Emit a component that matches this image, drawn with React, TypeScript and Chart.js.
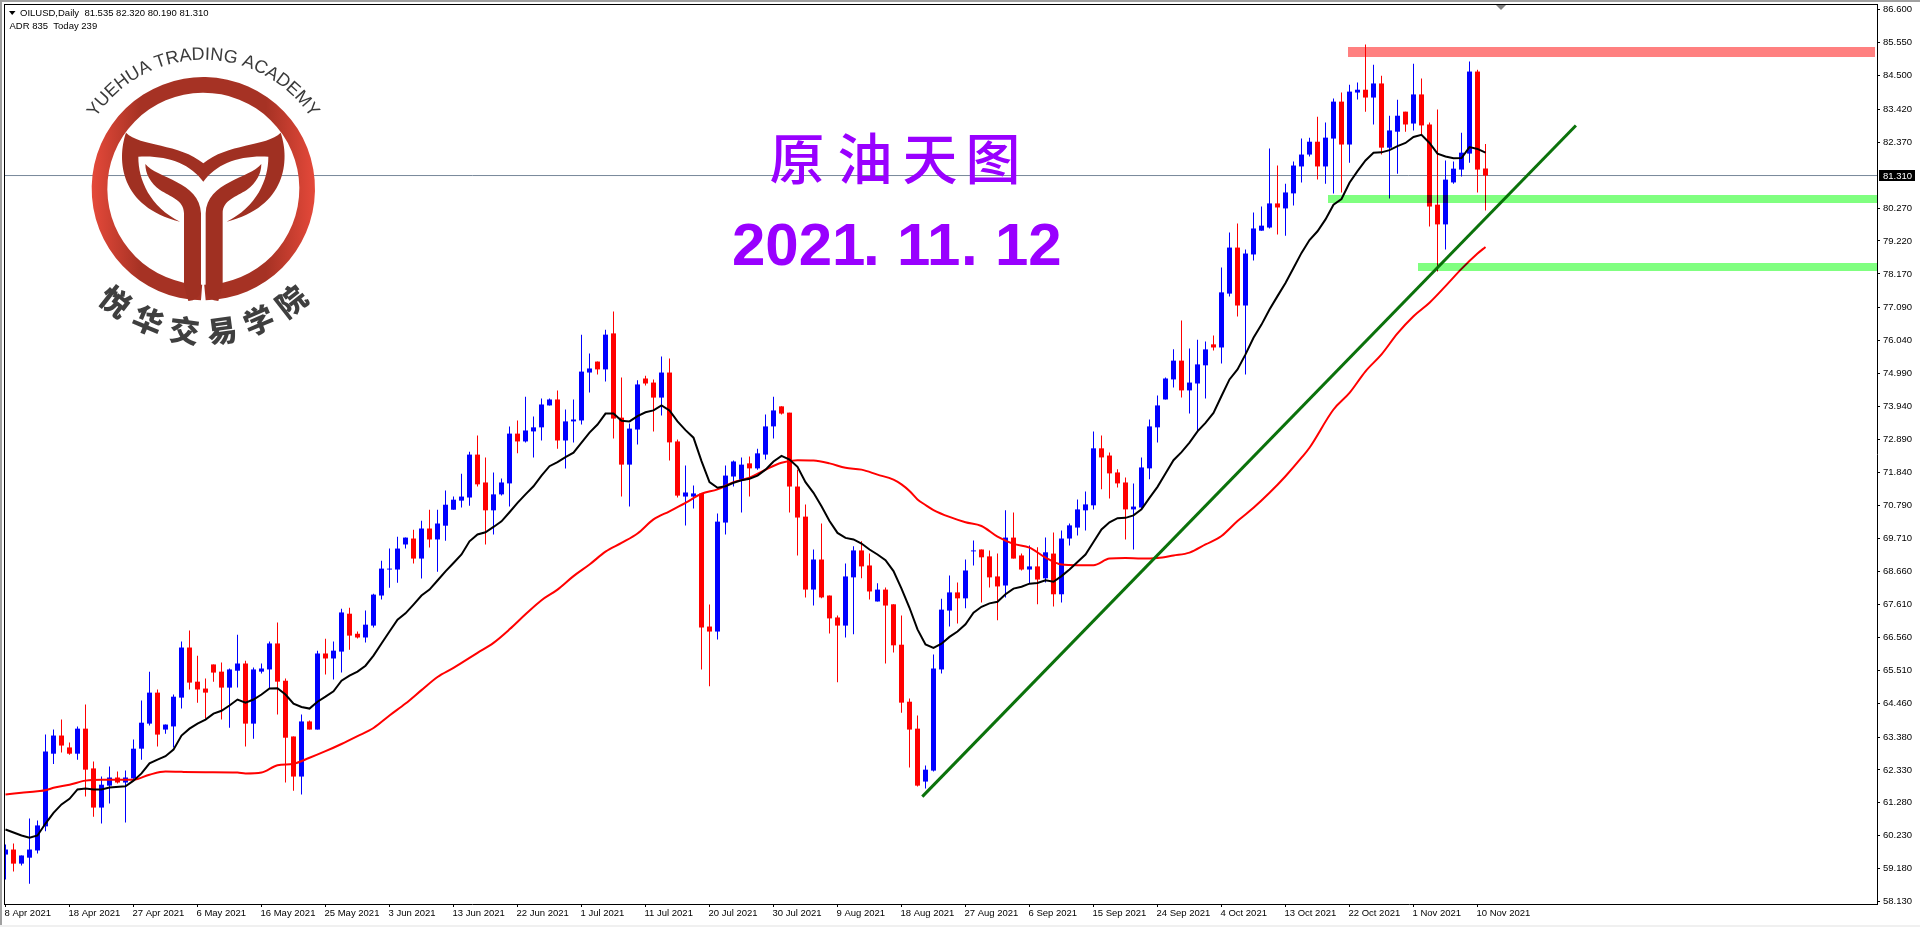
import React, { useEffect, useRef } from "react";
import { Chart, registerables } from "chart.js";

Chart.register(...registerables);

const dateLabels = ["8 Apr 2021","18 Apr 2021","27 Apr 2021","6 May 2021","16 May 2021","25 May 2021","3 Jun 2021","13 Jun 2021","22 Jun 2021","1 Jul 2021","11 Jul 2021","20 Jul 2021","30 Jul 2021","9 Aug 2021","18 Aug 2021","27 Aug 2021","6 Sep 2021","15 Sep 2021","24 Sep 2021","4 Oct 2021","13 Oct 2021","22 Oct 2021","1 Nov 2021","10 Nov 2021"];
const priceTicks = [86.6,85.55,84.5,83.42,82.37,80.27,79.22,78.17,77.09,76.04,74.99,73.94,72.89,71.84,70.79,69.71,68.66,67.61,66.56,65.51,64.46,63.38,62.33,61.28,60.23,59.18,58.13];
const lastPrice = 81.31;
const symbolLine = "OILUSD,Daily  81.535 82.320 80.190 81.310";
const adrLine = "ADR 835  Today 239";
const titleChars = ["原","油","天","图"];
const dateSegments = ["2021",".","11",".","12"];
const academyEn = "YUEHUA TRADING ACADEMY";
const academyCn = ["悦","华","交","易","学","院"];

const opens = [59.63,59.79,59.34,59.53,59.76,60.53,62.85,63.43,63.05,62.85,
63.65,62.38,61.13,61.83,62.09,61.93,62.06,63.01,63.81,64.80,
63.62,63.72,64.64,66.24,65.15,64.93,65.70,65.47,64.96,65.50,
65.73,63.81,65.47,65.54,66.37,65.18,63.40,62.12,63.88,63.62,
66.05,65.89,66.11,67.32,66.68,66.56,66.94,67.90,68.73,68.73,
69.53,69.72,69.08,70.04,69.69,70.13,70.64,70.93,71.03,72.40,
71.51,70.62,71.13,71.48,73.07,72.82,73.14,73.27,73.97,74.16,
72.85,73.46,73.49,75.02,75.37,75.12,76.27,73.58,72.08,73.20,
74.83,74.70,74.22,75.02,72.82,71.06,71.06,71.16,66.91,66.75,
70.23,71.70,71.60,72.12,71.96,72.40,73.30,73.94,73.74,71.38,
70.42,68.09,69.05,67.90,67.20,66.94,68.48,69.34,68.86,67.71,
68.09,67.62,66.33,64.51,63.65,61.96,62.31,65.54,67.42,68.00,
67.81,69.31,69.37,69.15,68.51,68.22,69.75,69.18,68.73,68.83,
68.45,69.24,67.94,69.72,70.07,70.62,70.78,72.60,72.37,71.83,
71.51,70.65,70.71,71.96,73.27,74.16,74.80,75.40,74.45,74.67,
75.25,75.92,75.82,77.54,79.01,77.16,78.79,79.55,79.65,80.42,
80.26,80.74,81.60,81.98,82.39,81.60,82.49,83.67,82.30,83.96,
84.05,83.80,84.25,82.20,82.71,83.35,82.97,83.90,82.94,80.38,
79.75,81.09,81.50,82.01,84.63,81.535];

const closes = [59.79,59.34,59.60,59.79,60.56,62.92,63.43,63.11,62.85,63.65,
62.34,61.13,61.86,62.09,61.93,62.09,63.01,63.84,64.80,63.46,
63.78,64.67,66.24,65.12,64.90,64.80,65.44,64.96,65.54,65.73,
63.81,65.54,65.57,66.37,65.15,63.36,62.12,63.88,63.62,66.05,
65.89,66.14,67.36,66.62,66.56,66.97,67.93,68.76,68.76,69.40,
69.75,69.08,70.04,69.69,70.20,70.80,70.96,71.06,72.40,71.45,
70.62,71.13,71.51,73.07,72.82,73.17,73.27,74.00,74.16,72.85,
73.46,73.52,75.05,75.15,75.12,76.23,73.55,72.08,73.23,74.64,
74.67,74.22,75.02,72.79,71.09,71.19,71.16,66.88,66.75,70.26,
71.73,72.18,72.08,71.96,72.44,73.30,73.81,73.71,71.38,70.39,
68.09,69.05,67.84,67.17,66.94,68.51,69.34,68.83,68.03,68.09,
67.58,66.31,64.48,63.62,61.83,62.34,65.57,67.45,68.00,67.81,
68.70,69.34,69.12,68.48,68.19,69.75,69.08,68.73,68.83,68.41,
69.28,67.94,69.72,70.14,70.65,70.81,72.60,72.31,71.80,71.48,
70.65,70.74,71.99,73.30,73.97,74.83,75.40,74.45,74.70,75.28,
75.76,75.82,77.58,79.01,77.16,78.82,79.62,79.71,80.42,80.29,
80.77,81.63,81.98,82.39,81.60,82.52,83.67,82.30,83.99,84.05,
83.80,84.25,82.20,82.75,83.22,82.94,83.90,82.91,80.32,79.75,
81.18,81.53,82.04,84.63,81.50,81.31];

const highs = [59.95,59.98,59.60,60.78,60.72,63.46,63.62,63.94,63.21,63.72,
64.42,62.60,62.12,62.44,62.28,62.31,63.30,64.55,65.47,64.90,
63.78,64.74,66.43,66.78,65.98,65.25,65.70,65.76,65.57,66.65,
65.82,65.60,65.73,66.43,67.04,65.25,63.40,64.10,63.91,66.14,
66.52,66.43,67.48,67.51,66.75,67.42,67.96,69.01,69.40,69.78,
69.75,70.00,70.29,70.64,70.64,71.25,71.06,71.79,72.49,73.01,
72.31,71.83,71.64,73.30,73.49,74.25,73.62,74.19,74.19,74.45,
73.84,74.16,76.23,75.63,75.37,76.39,76.97,74.86,73.39,74.77,
74.92,74.80,75.53,75.47,72.88,72.05,71.41,71.16,67.61,70.52,
72.05,72.21,72.31,72.34,72.59,73.68,74.25,73.94,73.74,71.92,
70.81,69.37,70.20,67.90,67.26,68.92,69.47,69.63,69.24,68.29,
68.16,67.62,67.26,64.61,64.07,62.47,66.02,67.80,68.54,68.32,
69.05,69.66,69.37,69.34,69.24,70.62,70.55,69.24,69.50,69.44,
69.75,69.91,69.98,70.20,70.97,71.22,73.14,73.01,72.47,71.93,
71.67,71.48,72.31,73.52,74.29,74.86,75.76,76.68,75.79,76.07,
76.01,76.20,78.37,79.49,79.78,78.95,80.13,80.32,82.17,81.63,
81.05,81.76,82.49,82.52,83.19,83.00,83.77,83.96,84.21,84.28,
85.49,84.85,84.50,83.22,83.73,83.35,84.88,84.41,83.00,83.42,
81.79,81.76,82.68,84.95,84.69,82.32];

const lows = [58.83,59.09,59.28,58.70,59.66,60.37,62.52,62.89,62.82,62.66,
61.48,60.84,60.62,61.26,61.90,60.65,62.02,62.66,63.75,63.08,
63.49,63.05,64.29,64.90,64.48,63.97,65.15,63.94,63.68,64.96,
63.08,63.33,65.41,64.93,64.10,61.93,61.67,61.55,63.62,63.62,
65.38,65.22,65.44,66.17,66.53,66.40,66.88,67.77,68.15,68.31,
69.40,68.92,68.44,69.43,68.66,69.65,70.64,70.71,70.77,71.38,
69.53,69.85,71.09,70.74,72.44,72.79,72.31,72.85,73.97,72.59,
71.96,72.79,73.36,74.38,74.96,74.73,72.91,71.06,70.74,72.72,
74.61,73.14,73.65,72.21,71.03,70.14,70.68,65.54,65.00,66.50,
69.85,71.38,70.55,71.06,71.92,72.24,72.91,73.68,70.55,69.18,
67.84,67.58,67.81,66.69,65.13,66.56,66.66,68.45,67.77,67.71,
65.73,66.08,64.16,62.41,61.80,61.74,62.28,65.41,66.91,67.01,
67.49,68.86,67.68,68.16,67.11,67.84,69.08,68.70,68.29,67.62,
68.32,67.55,67.68,69.50,69.82,69.98,70.65,71.29,71.00,71.35,
69.69,69.37,70.68,71.61,72.79,74.16,74.54,74.22,73.71,73.14,
74.19,75.72,75.31,77.45,76.81,74.96,78.60,79.55,79.62,79.43,
79.39,80.35,81.09,81.92,81.18,81.05,80.74,80.77,81.72,83.74,
83.35,82.94,81.98,80.58,81.37,82.71,82.75,82.59,79.68,78.25,
78.95,81.05,81.28,81.72,80.77,80.19];

const fastMaBars = [0,2,3,4,5,6,7,8,9,10,11,12,13,15,16,17,18,19,20,21,22,23,24,25,26,27,28,29,30,31,32,33,34,35,36,37,38,39,40,41,42,43,44,45,46,47,48,49,50,51,52,53,54,55,56,57,58,59,60,61,62,63,64,65,66,67,68,69,70,71,72,73,74,75,76,77,78,79,80,81,82,83,84,85,86,87,88,89,90,91,92,93,94,95,96,97,98,99,100,101,102,103,104,105,106,107,108,109,110,111,112,113,114,115,116,117,118,119,120,121,122,123,124,125,126,127,128,129,130,131,132,133,134,135,136,137,138,139,140,141,142,143,144,145,146,147,148,149,150,151,152,153,154,155,156,157,158,159,160,161,162,163,164,165,166,167,168,169,170,171,172,173,174,175,176,177,178,179,180,181,182,183,184,185];
const fastMaValues = [60.43,60.24,60.17,60.24,60.62,60.96,61.23,61.41,61.71,61.74,61.71,61.71,61.77,61.81,61.99,62.22,62.54,62.66,62.77,62.98,63.43,63.65,63.81,63.94,64.13,64.22,64.39,64.58,64.48,64.58,64.74,64.93,64.94,64.74,64.45,64.34,64.29,64.51,64.67,64.84,65.18,65.34,65.47,65.66,65.98,66.37,66.75,67.13,67.33,67.61,67.90,68.09,68.38,68.67,68.94,69.21,69.63,69.85,69.92,70.09,70.27,70.56,70.86,71.13,71.39,71.73,72.03,72.16,72.32,72.46,72.78,73.10,73.36,73.71,73.71,73.48,73.46,73.63,73.75,73.81,73.97,73.81,73.46,73.18,72.94,72.19,71.52,71.34,71.39,71.50,71.58,71.63,71.73,71.92,72.18,72.36,72.24,72.01,71.52,71.18,70.75,70.28,69.90,69.74,69.69,69.56,69.37,69.21,69.03,68.68,68.12,67.51,66.82,66.34,66.23,66.36,66.58,66.75,66.98,67.35,67.54,67.65,67.70,67.94,68.12,68.18,68.28,68.30,68.39,68.34,68.52,68.73,68.97,69.21,69.61,70.01,70.24,70.37,70.38,70.46,70.65,71.02,71.37,71.80,72.22,72.48,72.78,73.14,73.41,73.73,74.27,74.80,75.12,75.60,76.13,76.55,77.03,77.46,77.88,78.36,78.84,79.25,79.53,79.91,80.38,80.56,81.08,81.45,81.79,82.04,82.05,82.12,82.25,82.35,82.54,82.61,82.35,82.01,81.92,81.86,81.87,82.22,82.16,82.04];

const slowMaBars = [0,2,4,5,6,8,10,12,16,18,20,22,25,29,30,32,34,36,38,40,42,44,46,48,50,52,54,56,59,61,63,65,67,69,71,73,75,77,79,81,83,85,87,89,91,93,95,97,99,101,103,105,107,109,111,112,113,114,115,116,118,120,122,124,126,128,130,132,134,136,138,140,142,144,146,148,150,152,154,156,158,160,162,163,166,168,170,172,174,176,178,180,182,184,185];
const slowMaValues = [61.55,61.60,61.65,61.68,61.76,61.86,61.99,62.02,62.02,62.18,62.28,62.27,62.26,62.25,62.22,62.25,62.48,62.53,62.72,62.93,63.16,63.41,63.67,64.07,64.45,64.88,65.30,65.59,66.07,66.39,66.82,67.30,67.75,68.09,68.52,68.89,69.30,69.58,69.88,70.33,70.59,70.86,71.15,71.29,71.52,71.66,71.92,72.14,72.22,72.21,72.12,71.98,71.92,71.76,71.60,71.45,71.24,70.97,70.79,70.63,70.41,70.24,70.12,69.78,69.55,69.43,69.11,68.89,68.87,68.87,69.08,69.10,69.08,69.10,69.18,69.27,69.53,69.80,70.28,70.70,71.18,71.71,72.30,72.62,73.84,74.37,75.06,75.60,76.27,76.82,77.25,77.78,78.33,78.82,79.03];

const trendBars = [114.6, 196.3];
const trendValues = [61.48, 82.91];
const lastBars = [-0.1875, 233.9375];

const zoneStart = [167.8, 165.3, 176.5];
const zoneEnd = [233.7, 233.9375, 233.9375];
const zoneTop = [85.43, 80.70, 78.53];
const zoneBottom = [85.11, 80.45, 78.28];
const zoneColors = ["#FF8080", "#80FF80", "#80FF80"];

const BULL = "#0000FF";
const BEAR = "#FF0000";
const FONT = '"Liberation Sans", Arial, sans-serif';
const CJK = '"Noto Sans CJK SC", sans-serif';

const toXY = (xs: number[], ys: number[]) => xs.map((x, i) => ({ x, y: ys[i] }));
const barColors = opens.map((o, i) => (closes[i] >= o ? BULL : BEAR));

function drawLogo(ctx: CanvasRenderingContext2D) {
  ctx.save();
  ctx.scale(1 / 3, 1 / 3);
  const grad = ctx.createLinearGradient(275, 0, 945, 0);
  grad.addColorStop(0, "#E5493A");
  grad.addColorStop(0.22, "#A63224");
  grad.addColorStop(0.78, "#A63224");
  grad.addColorStop(1, "#E5493A");
  ctx.fillStyle = grad;
  const a = Math.PI / 2 + 0.021;
  ctx.beginPath();
  ctx.arc(610, 566, 335, a, a + Math.PI * 2 - 0.042, false);
  ctx.arc(610, 566, 288, a + Math.PI * 2 - 0.03, a - 0.009, true);
  ctx.closePath();
  ctx.fill();
  ctx.fillStyle = "#A03022";
  ctx.fill(new Path2D("M378,398 C420,440 540,430 610,490 C680,430 800,440 842,398 C870,480 860,620 680,665 C770,620 805,540 805,470 C720,465 650,490 610,545 C570,490 500,465 415,470 C415,540 450,620 540,665 C360,620 350,480 378,398 Z"));
  ctx.fill(new Path2D("M436,492 C470,535 600,545 603,640 L603,875 Q595,900 565,903 L552,855 L552,640 C552,600 510,590 480,570 C450,548 436,520 436,492 Z"));
  ctx.fill(new Path2D("M784,492 C750,535 620,545 617,640 L617,875 Q625,900 655,903 L668,855 L668,640 C668,600 710,590 740,570 C770,548 784,520 784,492 Z"));
  ctx.restore();

  const cx = 203.3, cy = 188.7;
  ctx.save();
  ctx.fillStyle = "#3A3A3A";
  ctx.font = `18px ${FONT}`;
  ctx.textAlign = "center";
  ctx.textBaseline = "alphabetic";
  const r = 129;
  const total = ctx.measureText(academyEn).width;
  let run = -total / 2;
  for (const ch of academyEn) {
    const w = ctx.measureText(ch).width;
    const ang = (run + w / 2) / r;
    ctx.save();
    ctx.translate(cx + Math.sin(ang) * r, cy - Math.cos(ang) * r);
    ctx.rotate(ang);
    ctx.fillText(ch, 0, 0);
    ctx.restore();
    run += w;
  }
  ctx.font = `900 30px ${CJK}`;
  ctx.textBaseline = "middle";
  ctx.fillStyle = "#3F3F3F";
  academyCn.forEach((ch, i) => {
    const ang = ((-38 + i * 15.2) * Math.PI) / 180;
    ctx.save();
    ctx.translate(cx + Math.sin(ang) * 143, cy + Math.cos(ang) * 143);
    ctx.rotate(-ang);
    ctx.fillText(ch, 0, 0);
    ctx.restore();
  });
  ctx.restore();
}

const chrome = {
  id: "chrome",
  beforeDraw(chart: any) {
    const { ctx, width, height } = chart;
    ctx.save();
    ctx.fillStyle = "#FFFFFF";
    ctx.fillRect(0, 0, width, height);
    ctx.fillStyle = "#A0A0A0";
    ctx.fillRect(0, 0, width, 2);
    ctx.fillRect(0, 0, 2, height - 2);
    ctx.fillStyle = "#F0F0F0";
    ctx.fillRect(0, height - 2, width, 2);
    ctx.restore();
  },
  afterDatasetsDraw(chart: any) {
    const { ctx, scales, chartArea } = chart;
    ctx.save();
    ctx.globalCompositeOperation = "multiply";
    zoneStart.forEach((s, i) => {
      const x0 = scales.x.getPixelForValue(s);
      const x1 = scales.x.getPixelForValue(zoneEnd[i]);
      const y0 = scales.y.getPixelForValue(zoneTop[i]);
      const y1 = scales.y.getPixelForValue(zoneBottom[i]);
      ctx.fillStyle = zoneColors[i];
      ctx.fillRect(Math.round(x0), Math.round(y0), Math.round(x1 - x0), Math.round(y1 - y0));
    });
    ctx.restore();
    ctx.save();
    ctx.fillStyle = "#000000";
    ctx.fillRect(chartArea.left, chartArea.top, chartArea.right - chartArea.left, 1);
    ctx.fillRect(chartArea.left, chartArea.top, 1, chartArea.bottom - chartArea.top);
    ctx.restore();
  },
  afterDraw(chart: any) {
    const { ctx, scales, chartArea } = chart;
    drawLogo(ctx);
    ctx.save();
    ctx.fillStyle = "#808080";
    ctx.beginPath();
    ctx.moveTo(1496, chartArea.top + 1);
    ctx.lineTo(1506, chartArea.top + 1);
    ctx.lineTo(1501, chartArea.top + 6);
    ctx.closePath();
    ctx.fill();

    ctx.fillStyle = "#000000";
    ctx.beginPath();
    ctx.moveTo(9, 11);
    ctx.lineTo(15.5, 11);
    ctx.lineTo(12.2, 15);
    ctx.closePath();
    ctx.fill();
    ctx.font = `9.5px ${FONT}`;
    ctx.textBaseline = "alphabetic";
    ctx.textAlign = "left";
    ctx.fillText(symbolLine, 20, 16);
    ctx.fillText(adrLine, 9.5, 29);

    const py = scales.y.getPixelForValue(lastPrice);
    ctx.fillStyle = "#000000";
    ctx.fillRect(1879, Math.round(py) - 6, 36, 11);
    ctx.fillStyle = "#FFFFFF";
    ctx.font = `9.5px ${FONT}`;
    ctx.textBaseline = "middle";
    ctx.fillText(lastPrice.toFixed(3), 1883, Math.round(py));

    ctx.fillStyle = "#9900FF";
    ctx.textAlign = "center";
    ctx.textBaseline = "middle";
    ctx.font = `500 55px ${CJK}`;
    [797, 865, 930, 993].forEach((x, i) => ctx.fillText(titleChars[i], x, 158));
    ctx.font = `bold 60px ${FONT}`;
    ctx.textAlign = "left";
    ctx.textBaseline = "alphabetic";
    [732, 863, 897, 961, 995].forEach((x, i) => ctx.fillText(dateSegments[i], x, 265));
    ctx.restore();
  },
};

const fixAxis = (size: number, key: "width" | "height") => (s: any) => {
  s[key] = size;
  s.paddingLeft = s.paddingRight = s.paddingTop = s.paddingBottom = 0;
};

export default function App() {
  const ref = useRef<HTMLCanvasElement>(null);
  useEffect(() => {
    document.body.style.margin = "0";
    const chart = new Chart(ref.current as HTMLCanvasElement, {
      type: "bar",
      data: {
        datasets: [
          {
            type: "line", label: "Last", order: 9,
            data: toXY(lastBars, [lastPrice, lastPrice]),
            borderColor: "#778899", borderWidth: 1, pointRadius: 0,
          },
          {
            type: "bar", label: "Wick", order: 8, grouped: false, barThickness: 1, inflateAmount: 0,
            data: opens.map((_, i) => ({ x: i, y: [lows[i], highs[i]] })),
            backgroundColor: barColors, borderWidth: 0,
          },
          {
            type: "bar", label: "Body", order: 7, grouped: false, barThickness: 5, inflateAmount: 0,
            data: opens.map((o, i) => ({ x: i, y: [o, closes[i]] })),
            backgroundColor: barColors, borderWidth: 0,
          },
          {
            type: "line", label: "MA slow", order: 6,
            data: toXY(slowMaBars, slowMaValues),
            borderColor: "#FF0000", borderWidth: 2, pointRadius: 0, cubicInterpolationMode: "monotone",
          },
          {
            type: "line", label: "MA fast", order: 5,
            data: toXY(fastMaBars, fastMaValues),
            borderColor: "#000000", borderWidth: 2, pointRadius: 0, tension: 0,
          },
          {
            type: "line", label: "Trend", order: 4,
            data: toXY(trendBars, trendValues),
            borderColor: "#0B720B", borderWidth: 3, pointRadius: 0,
          },
        ] as any,
      },
      options: {
        responsive: false,
        animation: false,
        layout: { padding: { left: 4, top: 4, right: 0, bottom: 0 } },
        plugins: { legend: { display: false }, tooltip: { enabled: false } },
        events: [],
        scales: {
          x: {
            type: "linear", position: "bottom", offset: false,
            min: -0.1875, max: 233.9375,
            afterBuildTicks: (s: any) => { s.ticks = dateLabels.map((_, k) => ({ value: k * 8 })); },
            afterFit: fixAxis(23, "height"),
            grid: { drawOnChartArea: false, drawTicks: true, tickLength: 3, color: "#000000", offset: false },
            border: { display: true, color: "#000000", width: 1 },
            ticks: {
              autoSkip: false, maxRotation: 0, minRotation: 0, align: "start", padding: 1, labelOffset: -1,
              color: "#000000", font: { family: FONT, size: 9.5 },
              callback: (v: any) => dateLabels[Math.round(v / 8)] ?? "",
            },
          },
          y: {
            type: "linear", position: "right", beginAtZero: false,
            min: 58.051, max: 86.787,
            afterBuildTicks: (s: any) => { s.ticks = priceTicks.map((value) => ({ value })); },
            afterFit: fixAxis(43, "width"),
            grid: { drawOnChartArea: false, drawTicks: true, tickLength: 3, color: "#000000" },
            border: { display: true, color: "#000000", width: 1 },
            ticks: {
              autoSkip: false, padding: 3, color: "#000000", font: { family: FONT, size: 9.5 },
              callback: (v: any) => Number(v).toFixed(3),
            },
          },
        },
      } as any,
      plugins: [chrome],
    });
    return () => chart.destroy();
  }, []);
  return <canvas ref={ref} width={1920} height={927} style={{ display: "block", width: 1920, height: 927 }} />;
}
